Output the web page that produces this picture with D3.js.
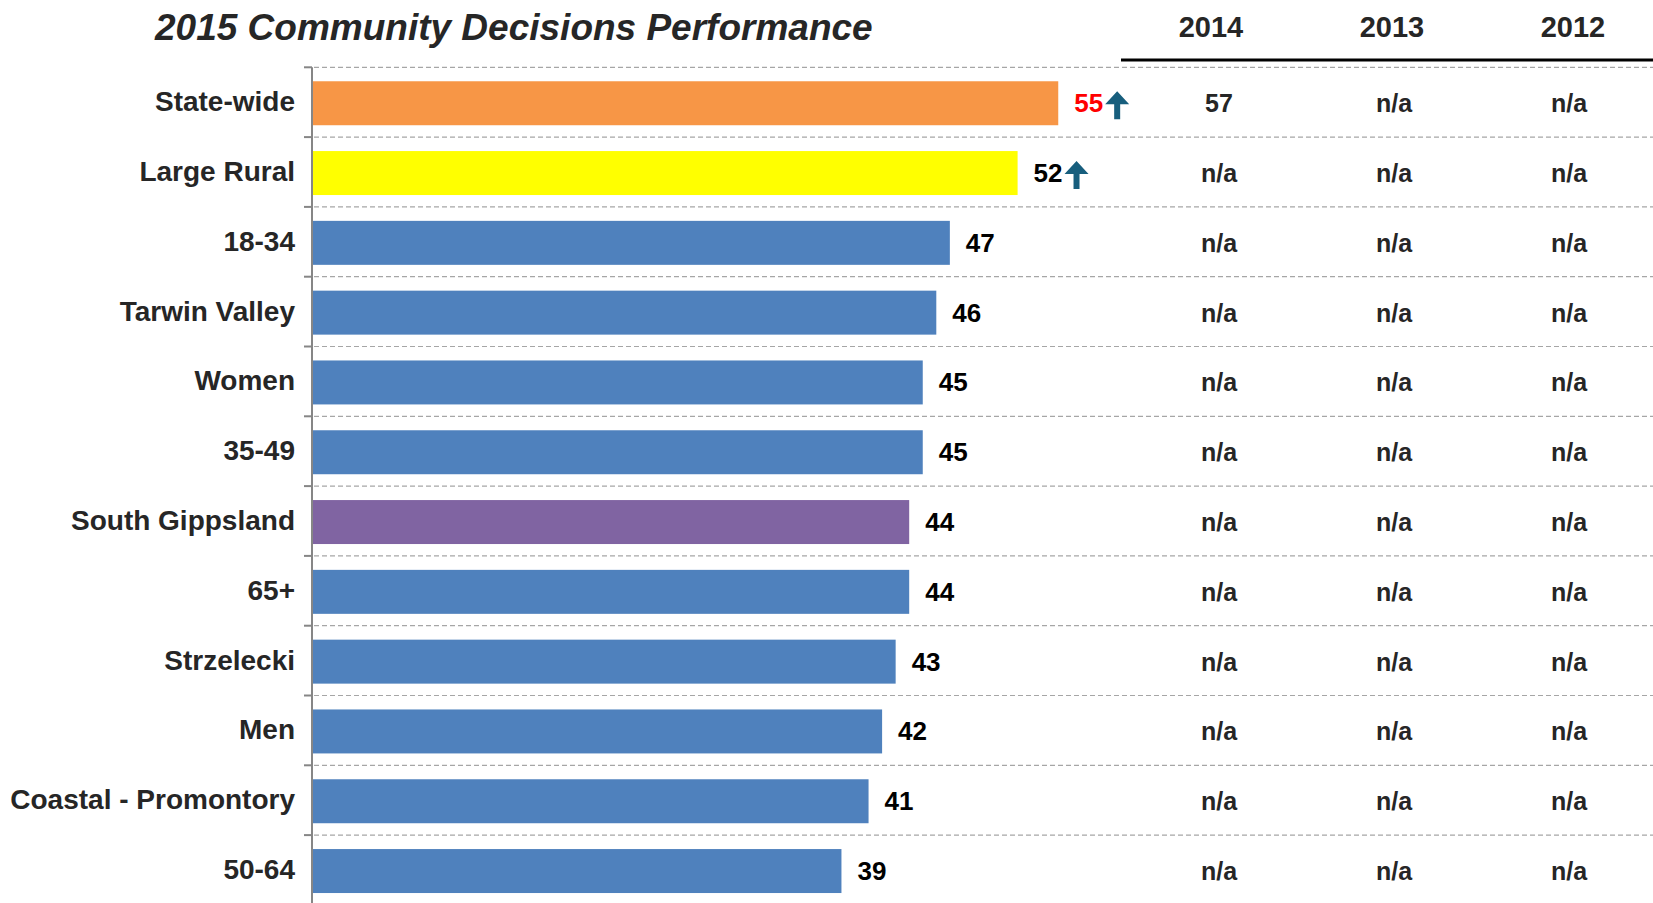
<!DOCTYPE html>
<html lang="en">
<head>
<meta charset="utf-8">
<title>2015 Community Decisions Performance</title>
<script src="https://d3js.org/d3.v7.min.js"></script>
<style>
  html, body { margin: 0; padding: 0; background: #fff; }
  body { font-family: "Liberation Sans", Arial, sans-serif; }
  svg { display: block; }
  .lbl { font-size: 28px; font-weight: bold; fill: #262626; }
  .val { font-size: 26px; font-weight: bold; fill: #000; }
  .tbl { font-size: 25px; font-weight: bold; fill: #262626; }
  .hdr { font-size: 29px; font-weight: bold; fill: #262626; }
</style>
</head>
<body>
<script>
// data
var categories = ["State-wide", "Large Rural", "18-34", "Tarwin Valley", "Women", "35-49",
                  "South Gippsland", "65+", "Strzelecki", "Men", "Coastal - Promontory", "50-64"];
var scores2015 = [55, 52, 47, 46, 45, 45, 44, 44, 43, 42, 41, 39];
var barColors  = ["#F79646", "#FFFF00", "#4F81BD", "#4F81BD", "#4F81BD", "#4F81BD",
                  "#8064A2", "#4F81BD", "#4F81BD", "#4F81BD", "#4F81BD", "#4F81BD"];
var labelColors = ["#FF0000", "#000", "#000", "#000", "#000", "#000",
                   "#000", "#000", "#000", "#000", "#000", "#000"];
// significantly higher -> up arrow
var upArrow = [true, true, false, false, false, false, false, false, false, false, false, false];
var years = ["2014", "2013", "2012"];
var scores2014 = ["57", "n/a", "n/a", "n/a", "n/a", "n/a", "n/a", "n/a", "n/a", "n/a", "n/a", "n/a"];
var scores2013 = ["n/a", "n/a", "n/a", "n/a", "n/a", "n/a", "n/a", "n/a", "n/a", "n/a", "n/a", "n/a"];
var scores2012 = ["n/a", "n/a", "n/a", "n/a", "n/a", "n/a", "n/a", "n/a", "n/a", "n/a", "n/a", "n/a"];
var pastScores = [scores2014, scores2013, scores2012];

var width = 1653, height = 903;
var svg = d3.select("body").append("svg").attr("width", width).attr("height", height);

// scales
var x = d3.scaleLinear().domain([0, 100]).range([313, 1668]);
var y = d3.scaleBand().domain(categories).range([67.3, 67.3 + 69.8 * categories.length]);
var colHead = d3.scalePoint().domain(years).range([1211, 1573]);
var colVal = d3.scalePoint().domain(years).range([1219, 1569]);

// title
svg.append("text")
  .attr("x", 155).attr("y", 40)
  .style("font-size", "37px").style("font-weight", "bold").style("font-style", "italic")
  .style("fill", "#262626")
  .text("2015 Community Decisions Performance");

// table header
svg.append("g").selectAll("text").data(years).enter().append("text")
  .attr("class", "hdr")
  .attr("x", function(d){ return colHead(d); })
  .attr("y", 37)
  .attr("text-anchor", "middle")
  .text(function(d){ return d; });
svg.append("line")
  .attr("x1", 1121).attr("x2", width).attr("y1", 60).attr("y2", 60)
  .attr("stroke", "#000").attr("stroke-width", 3);

// dashed gridlines on the band boundaries
var bounds = categories.map(function(c){ return y(c); });
svg.append("g").selectAll("line").data(bounds).enter().append("line")
  .attr("x1", 314).attr("x2", width)
  .attr("y1", function(d){ return d; }).attr("y2", function(d){ return d; })
  .attr("stroke", "#A6A6A6").attr("stroke-width", 1.2).attr("stroke-dasharray", "5,3");

// axis with ticks on boundaries
svg.append("line")
  .attr("x1", 312).attr("x2", 312).attr("y1", y.range()[0]).attr("y2", height)
  .attr("stroke", "#868686").attr("stroke-width", 2);
svg.append("g").selectAll("line").data(bounds).enter().append("line")
  .attr("x1", 304).attr("x2", 312)
  .attr("y1", function(d){ return d; }).attr("y2", function(d){ return d; })
  .attr("stroke", "#868686").attr("stroke-width", 2);

// category labels
svg.append("g").selectAll("text").data(categories).enter().append("text")
  .attr("class", "lbl")
  .attr("x", 295)
  .attr("y", function(d){ return y(d) + y.bandwidth() / 2 + 9; })
  .attr("text-anchor", "end")
  .text(function(d){ return d; });

// bars
svg.append("g").selectAll("rect").data(categories).enter().append("rect")
  .attr("x", x(0))
  .attr("y", function(d){ return y(d) + y.bandwidth() * 0.2; })
  .attr("width", function(d, i){ return x(scores2015[i]) - x(0); })
  .attr("height", y.bandwidth() * 0.63)
  .attr("fill", function(d, i){ return barColors[i]; });

// value labels + arrows
var vals = svg.append("g").selectAll("g").data(categories).enter().append("g");
vals.append("text")
  .attr("class", "val")
  .attr("x", function(d, i){ return x(scores2015[i]) + 16; })
  .attr("y", function(d){ return y(d) + y.bandwidth() / 2 + 10; })
  .style("fill", function(d, i){ return labelColors[i]; })
  .text(function(d, i){ return scores2015[i]; });
vals.each(function(d, i){
  if (!upArrow[i]) return;
  var t = d3.select(this).select("text");
  var ax = x(scores2015[i]) + 16 + t.node().getComputedTextLength() + 2;
  var cy = y(d) + y.bandwidth() / 2 + 3;
  // arrow: 24 wide, 28 tall
  var p = [[ax, cy - 1], [ax + 12, cy - 14], [ax + 24, cy - 1], [ax + 15, cy - 1],
           [ax + 15, cy + 14], [ax + 9, cy + 14], [ax + 9, cy - 1]];
  d3.select(this).append("path")
    .attr("d", d3.line()(p) + "Z")
    .attr("fill", "#175E7D");
});

// table values
years.forEach(function(yr, k){
  svg.append("g").selectAll("text").data(categories).enter().append("text")
    .attr("class", "tbl")
    .attr("x", colVal(yr))
    .attr("y", function(d){ return y(d) + y.bandwidth() / 2 + 10; })
    .attr("text-anchor", "middle")
    .text(function(d, i){ return pastScores[k][i]; });
});
</script>
</body>
</html>
